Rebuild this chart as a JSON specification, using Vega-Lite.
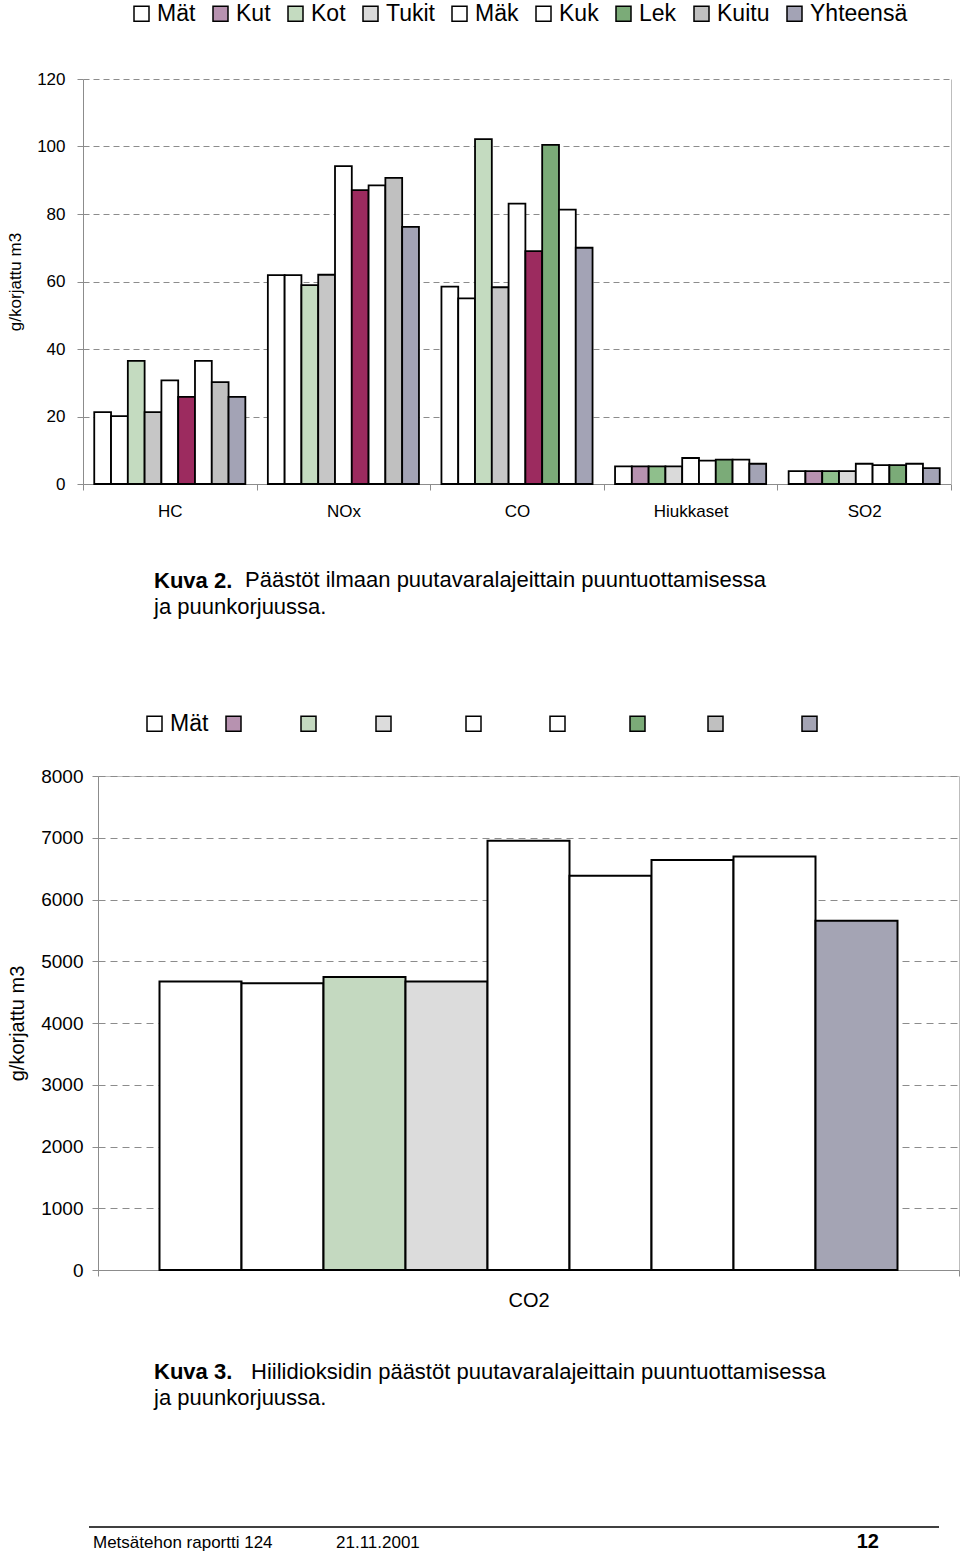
{
  "$schema": "https://vega.github.io/schema/vega-lite/v6.json",
  "padding": {"left": 6, "top": 2, "right": 0, "bottom": 0},
  "background": "white",
  "config": {
    "font": "Liberation Sans",
    "view": {"stroke": "#bdbdbd", "strokeWidth": 1},
    "axis": {"labelColor": "black", "titleColor": "black", "titleFontWeight": "normal", "domainColor": "#8c8c8c", "tickColor": "#8c8c8c", "gridColor": "#8c8c8c", "labelFont": "Liberation Sans", "titleFont": "Liberation Sans"},
    "legend": {"labelColor": "black", "labelFont": "Liberation Sans"},
    "title": {"color": "black", "subtitleColor": "black", "font": "Liberation Sans", "subtitleFont": "Liberation Sans"}
  },
  "spacing": 94,
  "resolve": {"scale": {"fill": "independent", "x": "independent", "y": "independent", "xOffset": "independent"}, "legend": {"fill": "independent"}},
  "title": {"text": "12", "orient": "bottom", "anchor": "end", "fontSize": 20, "fontWeight": "bold", "dx": -87, "offset": -19},
  "vconcat": [
    {
      "title": {"text": "Päästöt ilmaan puutavaralajeittain puuntuottamisessa", "orient": "bottom", "anchor": "start", "frame": "group", "dx": 147, "offset": -48, "fontSize": 22, "fontWeight": "normal"},
      "vconcat": [
        {
          "width": 853,
          "height": 405,
          "view": {"stroke": null},
          "data": {"values": [
            {"cat": "HC", "series": "Mät", "value": 21.3},
            {"cat": "HC", "series": "Kut", "value": 20.1},
            {"cat": "HC", "series": "Kot", "value": 36.5},
            {"cat": "HC", "series": "Tukit", "value": 21.3},
            {"cat": "HC", "series": "Mäk", "value": 30.7},
            {"cat": "HC", "series": "Kuk", "value": 25.8},
            {"cat": "HC", "series": "Lek", "value": 36.5},
            {"cat": "HC", "series": "Kuitu", "value": 30.2},
            {"cat": "HC", "series": "Yhteensä", "value": 25.8},
            {"cat": "NOx", "series": "Mät", "value": 61.9},
            {"cat": "NOx", "series": "Kut", "value": 61.9},
            {"cat": "NOx", "series": "Kot", "value": 58.9},
            {"cat": "NOx", "series": "Tukit", "value": 62.0},
            {"cat": "NOx", "series": "Mäk", "value": 94.2},
            {"cat": "NOx", "series": "Kuk", "value": 87.1},
            {"cat": "NOx", "series": "Lek", "value": 88.5},
            {"cat": "NOx", "series": "Kuitu", "value": 90.7},
            {"cat": "NOx", "series": "Yhteensä", "value": 76.2},
            {"cat": "CO", "series": "Mät", "value": 58.5},
            {"cat": "CO", "series": "Kut", "value": 55.0},
            {"cat": "CO", "series": "Kot", "value": 102.2},
            {"cat": "CO", "series": "Tukit", "value": 58.3},
            {"cat": "CO", "series": "Mäk", "value": 83.1},
            {"cat": "CO", "series": "Kuk", "value": 69.0},
            {"cat": "CO", "series": "Lek", "value": 100.5},
            {"cat": "CO", "series": "Kuitu", "value": 81.3},
            {"cat": "CO", "series": "Yhteensä", "value": 70.0},
            {"cat": "Hiukkaset", "series": "Mät", "value": 5.2},
            {"cat": "Hiukkaset", "series": "Kut", "value": 5.2},
            {"cat": "Hiukkaset", "series": "Kot", "value": 5.2},
            {"cat": "Hiukkaset", "series": "Tukit", "value": 5.2},
            {"cat": "Hiukkaset", "series": "Mäk", "value": 7.7},
            {"cat": "Hiukkaset", "series": "Kuk", "value": 6.9},
            {"cat": "Hiukkaset", "series": "Lek", "value": 7.2},
            {"cat": "Hiukkaset", "series": "Kuitu", "value": 7.2},
            {"cat": "Hiukkaset", "series": "Yhteensä", "value": 6.0},
            {"cat": "SO2", "series": "Mät", "value": 3.8},
            {"cat": "SO2", "series": "Kut", "value": 3.8},
            {"cat": "SO2", "series": "Kot", "value": 3.8},
            {"cat": "SO2", "series": "Tukit", "value": 3.8},
            {"cat": "SO2", "series": "Mäk", "value": 6.0},
            {"cat": "SO2", "series": "Kuk", "value": 5.6},
            {"cat": "SO2", "series": "Lek", "value": 5.6},
            {"cat": "SO2", "series": "Kuitu", "value": 6.0},
            {"cat": "SO2", "series": "Yhteensä", "value": 4.7}
          ]},
          "resolve": {"scale": {"y": "independent"}, "axis": {"y": "independent"}},
          "layer": [
            {
              "mark": {"type": "bar", "stroke": "black", "strokeWidth": 1.8},
              "encoding": {
                "x": {"field": "cat", "type": "nominal", "sort": ["HC", "NOx", "CO", "Hiukkaset", "SO2"], "scale": {"paddingInner": 0, "paddingOuter": 0, "range": [-15, 853]},
                  "axis": {"title": null, "labelAngle": 0, "tickBand": "extent", "tickSize": 6, "labelPadding": 13, "labelFontSize": 17, "grid": false}},
                "xOffset": {"field": "series", "type": "nominal", "sort": ["Mät", "Kut", "Kot", "Tukit", "Mäk", "Kuk", "Lek", "Kuitu", "Yhteensä"], "scale": {"paddingInner": 0, "paddingOuter": 0.67}},
                "y": {"field": "value", "type": "quantitative", "scale": {"domain": [0, 120], "nice": false},
                  "axis": {"values": [0, 20, 40, 60, 80, 100, 120], "offset": 15, "grid": true, "gridDash": [6, 4], "tickSize": 6, "labelFontSize": 17, "labelPadding": 12, "title": "g/korjattu m3", "titleFontSize": 17, "titlePadding": 11, "minExtent": 48, "maxExtent": 48}},
                "fill": {
                  "condition": [
                    {"test": "datum.series === 'Kut' && (datum.cat === 'HC' || datum.cat === 'NOx' || datum.cat === 'CO')", "value": "#ffffff"},
                    {"test": "datum.series === 'Tukit' && (datum.cat === 'HC' || datum.cat === 'NOx' || datum.cat === 'CO')", "value": "#c6c6c6"},
                    {"test": "datum.series === 'Kuk' && (datum.cat === 'HC' || datum.cat === 'NOx' || datum.cat === 'CO')", "value": "#9c2b5f"},
                    {"test": "datum.series === 'Lek' && (datum.cat === 'HC' || datum.cat === 'NOx')", "value": "#ffffff"},
                    {"test": "datum.series === 'Kuitu' && (datum.cat === 'CO' || datum.cat === 'Hiukkaset' || datum.cat === 'SO2')", "value": "#ffffff"},
                    {"test": "datum.series === 'Kot' && (datum.cat === 'Hiukkaset' || datum.cat === 'SO2')", "value": "#8fbf8c"}
                  ],
                  "field": "series", "type": "nominal",
                  "scale": {"domain": ["Mät", "Kut", "Kot", "Tukit", "Mäk", "Kuk", "Lek", "Kuitu", "Yhteensä"],
                            "range": ["#ffffff", "#b792b0", "#c4dbc0", "#dadada", "#ffffff", "#ffffff", "#7bab78", "#c0c0c0", "#a3a3b5"]},
                  "legend": {"orient": "none", "direction": "horizontal", "columns": 9, "legendX": 32, "legendY": -77, "title": null, "padding": 0,
                    "symbolType": "square", "symbolSize": 225, "symbolStrokeColor": "black", "symbolStrokeWidth": 1.5,
                    "labelFontSize": 23, "labelOffset": 4, "columnPadding": 13}
                }
              }
            },
            {
              "mark": {"type": "rule", "opacity": 0},
              "encoding": {
                "y": {"field": "value", "type": "quantitative", "scale": {"domain": [0, 120], "nice": false},
                  "axis": {"orient": "right", "labels": false, "ticks": false, "grid": false, "title": null, "domain": true, "domainColor": "#bdbdbd"}}
              }
            }
          ],
          "title": {"text": "Kuva 2.", "subtitle": "ja puunkorjuussa.",
            "orient": "bottom", "anchor": "start", "frame": "group", "dx": 56, "offset": 52,
            "fontSize": 22, "fontWeight": "bold", "subtitleFontSize": 22, "subtitleFontWeight": "normal", "subtitlePadding": 4}
        }
      ]
    },
    {
      "spacing": 116,
      "resolve": {"scale": {"fill": "independent", "x": "independent", "y": "independent", "xOffset": "independent"}, "legend": {"fill": "independent"}},
      "title": {"text": "21.11.2001", "orient": "bottom", "anchor": "start", "frame": "group", "dx": 238, "offset": -16, "fontSize": 17, "fontWeight": "normal"},
      "vconcat": [
        {
          "title": {"text": "Hiilidioksidin päästöt puutavaralajeittain puuntuottamisessa", "orient": "bottom", "anchor": "start", "frame": "group", "dx": 153, "offset": -48, "fontSize": 22, "fontWeight": "normal"},
          "vconcat": [
            {
              "width": 861,
              "height": 494,
              "data": {"values": [
                {"cat": "CO2", "series": "Mät", "value": 4674},
                {"cat": "CO2", "series": "Kut", "value": 4645},
                {"cat": "CO2", "series": "Kot", "value": 4743},
                {"cat": "CO2", "series": "Tukit", "value": 4674},
                {"cat": "CO2", "series": "Mäk", "value": 6953},
                {"cat": "CO2", "series": "Kuk", "value": 6386},
                {"cat": "CO2", "series": "Lek", "value": 6641},
                {"cat": "CO2", "series": "Kuitu", "value": 6698},
                {"cat": "CO2", "series": "Yhteensä", "value": 5657}
              ]},
              "mark": {"type": "bar", "stroke": "black", "strokeWidth": 2},
              "encoding": {
                "x": {"field": "cat", "type": "nominal", "scale": {"paddingInner": 0, "paddingOuter": 0},
                  "axis": {"title": null, "labelAngle": 0, "tickBand": "extent", "tickSize": 6, "labelPadding": 14, "labelFontSize": 20, "grid": false}},
                "xOffset": {"field": "series", "type": "nominal", "sort": ["Mät", "Kut", "Kot", "Tukit", "Mäk", "Kuk", "Lek", "Kuitu", "Yhteensä"], "scale": {"paddingInner": 0, "paddingOuter": 0.75}},
                "y": {"field": "value", "type": "quantitative", "scale": {"domain": [0, 8000], "nice": false},
                  "axis": {"values": [0, 1000, 2000, 3000, 4000, 5000, 6000, 7000, 8000], "format": "d", "grid": true, "gridDash": [7, 5], "tickSize": 6, "labelFontSize": 19, "labelPadding": 9, "title": "g/korjattu m3", "titleFontSize": 20, "titlePadding": 11, "minExtent": 60, "maxExtent": 60}},
                "fill": {
                  "condition": [
                    {"test": "datum.series === 'Kut' || datum.series === 'Lek' || datum.series === 'Kuitu'", "value": "#ffffff"}
                  ],
                  "field": "series", "type": "nominal",
                  "scale": {"domain": ["Mät", "Kut", "Kot", "Tukit", "Mäk", "Kuk", "Lek", "Kuitu", "Yhteensä"],
                            "range": ["#ffffff", "#b792b0", "#c4d9c0", "#dcdcdc", "#ffffff", "#ffffff", "#7bab78", "#c0c0c0", "#a4a4b4"]},
                  "legend": {"orient": "none", "direction": "horizontal", "columns": 9, "legendX": 45, "legendY": -64, "title": null, "padding": 0,
                    "symbolType": "square", "symbolSize": 225, "symbolStrokeColor": "black", "symbolStrokeWidth": 1.5,
                    "labelFontSize": 23, "labelOffset": 4, "columnPadding": 13,
                    "labelExpr": "datum.label === 'Mät' ? datum.label : '\u200b' + replace(replace(replace(replace(replace(replace(datum.label, regexp('[KY]', 'g'), '\u2002\u2006'), regexp('M', 'g'), '\u2002\u2004'), regexp('t', 'g'), '\u2008'), regexp('i', 'g'), '\u2005'), regexp('[ks]', 'g'), '\u2002'), regexp('[uoäLehnT]', 'g'), '\u2007') + '\u200b'"}
                }
              },
              "title": {"text": "Kuva 3.", "subtitle": "ja puunkorjuussa.",
                "orient": "bottom", "anchor": "start", "frame": "group", "dx": 56, "offset": 52,
                "fontSize": 22, "fontWeight": "bold", "subtitleFontSize": 22, "subtitleFontWeight": "normal", "subtitlePadding": 4}
            }
          ]
        },
        {
          "width": 841,
          "height": 1,
          "view": {"stroke": null},
          "data": {"values": [{"start": 0, "end": 1, "k": 1}]},
          "mark": {"type": "rule", "stroke": "black", "strokeWidth": 1.5},
          "encoding": {
            "x": {"field": "start", "type": "quantitative", "scale": {"domain": [0, 1], "range": [-9, 841]}, "axis": null},
            "x2": {"field": "end"},
            "y": {"field": "k", "type": "quantitative", "scale": {"domain": [0, 1]}, "axis": null}
          },
          "title": {"text": "Metsätehon raportti 124", "orient": "bottom", "anchor": "start", "frame": "group", "dx": -5, "offset": 7, "fontSize": 17, "fontWeight": "normal"}
        }
      ]
    }
  ]
}
